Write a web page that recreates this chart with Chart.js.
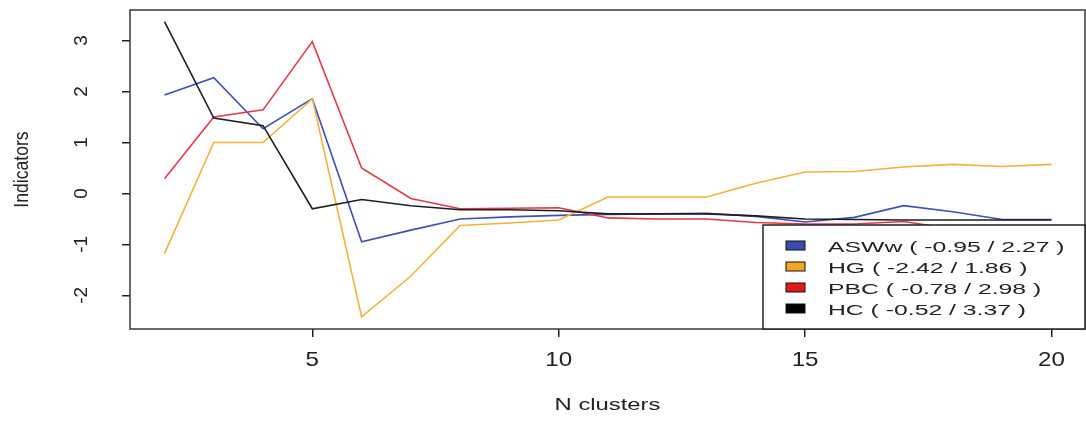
<!DOCTYPE html>
<html>
<head>
<meta charset="utf-8">
<script src="https://cdn.jsdelivr.net/npm/chart.js@4.4.1/dist/chart.umd.min.js"></script>
<style>
  html, body { margin: 0; padding: 0; background: #fff; }
  #wrap { width: 1086px; height: 424px; }
</style>
</head>
<body>
<div id="wrap"><canvas id="indicators" width="1086" height="424"></canvas></div>
<script>
// number of clusters on the x axis
var nClusters = [2, 3, 4, 5, 6, 7, 8, 9, 10, 11, 12, 13, 14, 15, 16, 17, 18, 19, 20];

// standardised cluster quality indicators
var aswwValues = [1.93, 2.27, 1.27, 1.86, -0.95, -0.72, -0.50, -0.46, -0.43, -0.41, -0.40, -0.39, -0.45, -0.56, -0.47, -0.24, -0.36, -0.51, -0.51];
var hgValues   = [-1.18, 1.00, 1.00, 1.86, -2.42, -1.62, -0.63, -0.58, -0.52, -0.07, -0.07, -0.07, 0.20, 0.42, 0.43, 0.52, 0.57, 0.53, 0.57];
var pbcValues  = [0.29, 1.50, 1.64, 2.98, 0.50, -0.10, -0.30, -0.29, -0.28, -0.48, -0.50, -0.50, -0.57, -0.60, -0.60, -0.55, -0.70, -0.78, -0.74];
var hcValues   = [3.37, 1.48, 1.33, -0.30, -0.12, -0.24, -0.32, -0.32, -0.34, -0.40, -0.40, -0.40, -0.44, -0.50, -0.51, -0.52, -0.52, -0.52, -0.52];

var seriesNames = ['ASWw', 'HG', 'PBC', 'HC'];
var seriesData = [aswwValues, hgValues, pbcValues, hcValues];
var lineColors = ['#3f4fb8', '#f2b23a', '#e23a48', '#1e1e1e'];
var boxColors = ['#3a4cb0', '#f5a623', '#e31a1c', '#000000'];

var xTicks = [5, 10, 15, 20];
var yTicks = [-2, -1, 0, 1, 2, 3];

var FONT = '"Liberation Sans", Arial, sans-serif';
var TEXT = '#222';

function drawText(ctx, text, x, y, size, sx, rot, align)
{
    ctx.save();
    ctx.translate(x, y);
    if (rot) ctx.rotate(rot);
    ctx.scale(sx, 1);
    ctx.font = size + 'px ' + FONT;
    ctx.fillStyle = TEXT;
    ctx.textAlign = align || 'center';
    ctx.textBaseline = 'middle';
    ctx.fillText(text, 0, 0);
    ctx.restore();
}

function legendLabel(i)
{
    var vals = seriesData[i];
    var lo = Math.min.apply(null, vals);
    var hi = Math.max.apply(null, vals);
    return seriesNames[i] + ' ( ' + lo.toFixed(2) + ' / ' + hi.toFixed(2) + ' )';
}

// frame, axis labels and the min/max legend, done the way base R plots look
var plotDecor = {
    id: 'plotDecor',
    afterDatasetsDraw: function (chart)
    {
        var ctx = chart.ctx;
        var area = chart.chartArea;
        var xs = chart.scales.x;
        var ys = chart.scales.y;

        ctx.save();
        ctx.strokeStyle = '#3a3a3a';
        ctx.lineWidth = 1.5;
        ctx.strokeRect(area.left, area.top, area.right - area.left, area.bottom - area.top);
        ctx.restore();

        xTicks.forEach(function (v)
        {
            drawText(ctx, String(v), xs.getPixelForValue(v), area.bottom + 31, 21, 1.15, 0, 'center');
        });
        yTicks.forEach(function (v)
        {
            drawText(ctx, String(v), area.left - 48, ys.getPixelForValue(v), 19, 1, -Math.PI / 2, 'center');
        });

        drawText(ctx, 'N clusters', (area.left + area.right) / 2, area.bottom + 76, 17, 1.4, 0, 'center');
        drawText(ctx, 'Indicators', 22, (area.top + area.bottom) / 2, 20, 0.88, -Math.PI / 2, 'center');

        // legend box in the bottom right corner
        var lw = 322, lh = 104;
        var lx = area.right - lw, ly = area.bottom - lh;
        ctx.save();
        ctx.fillStyle = '#fff';
        ctx.fillRect(lx, ly, lw, lh);
        ctx.strokeStyle = '#222';
        ctx.lineWidth = 1.5;
        ctx.strokeRect(lx, ly, lw, lh);
        for (var i = 0; i < seriesNames.length; i++)
        {
            var ry = ly + 22 + i * 21;
            ctx.fillStyle = boxColors[i];
            ctx.fillRect(lx + 23, ry - 6, 19, 9);
            ctx.strokeStyle = '#111';
            ctx.lineWidth = 1;
            ctx.strokeRect(lx + 23, ry - 6, 19, 9);
            drawText(ctx, legendLabel(i), lx + 65, ry + 1, 15, 1.65, 0, 'left');
        }
        ctx.restore();
    }
};

var datasets = seriesNames.map(function (name, i)
{
    return {
        label: name,
        data: nClusters.map(function (n, k) { return { x: n, y: seriesData[i][k] }; }),
        borderColor: lineColors[i],
        borderWidth: 1.6,
        pointRadius: 0,
        fill: false,
        tension: 0,
        order: 4 - i
    };
});

new Chart(document.getElementById('indicators').getContext('2d'), {
    type: 'line',
    data: { datasets: datasets },
    options: {
        responsive: false,
        animation: false,
        layout: { padding: { top: 10, right: 1, left: 0, bottom: 0 } },
        plugins: {
            legend: { display: false },
            tooltip: { enabled: false }
        },
        scales: {
            x: {
                type: 'linear',
                min: 1.3,
                max: 20.68,
                afterBuildTicks: function (scale) { scale.ticks = xTicks.map(function (v) { return { value: v }; }); },
                afterFit: function (scale) { scale.height = 95; },
                ticks: { display: false },
                grid: { drawOnChartArea: false, drawTicks: true, tickLength: 8, color: '#222', lineWidth: 1.5 },
                border: { display: false }
            },
            y: {
                type: 'linear',
                min: -2.66,
                max: 3.60,
                afterBuildTicks: function (scale) { scale.ticks = yTicks.map(function (v) { return { value: v }; }); },
                afterFit: function (scale) { scale.width = 130; },
                ticks: { display: false },
                grid: { drawOnChartArea: false, drawTicks: true, tickLength: 8, color: '#222', lineWidth: 1.5 },
                border: { display: false }
            }
        }
    },
    plugins: [plotDecor]
});
</script>
</body>
</html>
